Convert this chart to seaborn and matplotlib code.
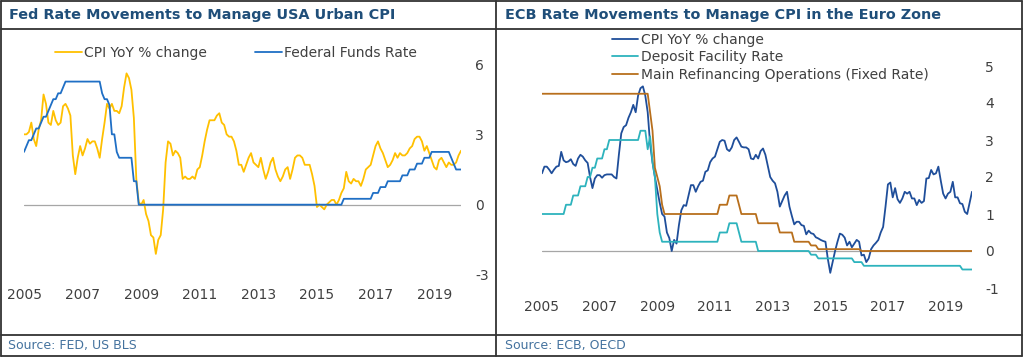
import numpy as np
import pandas as pd
import matplotlib.pyplot as plt
import seaborn as sns
from matplotlib.lines import Line2D

# monthly values, Jan 2005 .. Dec 2019
us_cpi = [
    3.0, 3.0, 3.1, 3.5, 2.8, 2.5, 3.2, 3.6, 4.7, 4.3, 3.5, 3.4,      # 2005
    4.0, 3.6, 3.4, 3.5, 4.2, 4.3, 4.1, 3.8, 2.1, 1.3, 2.0, 2.5,      # 2006
    2.1, 2.4, 2.8, 2.6, 2.7, 2.7, 2.4, 2.0, 2.8, 3.5, 4.3, 4.1,      # 2007
    4.3, 4.0, 4.0, 3.9, 4.2, 5.0, 5.6, 5.4, 4.9, 3.7, 1.1, 0.1,      # 2008
    0.0, 0.2, -0.4, -0.7, -1.3, -1.4, -2.1, -1.5, -1.3, -0.2, 1.8, 2.7,  # 2009
    2.6, 2.1, 2.3, 2.2, 2.0, 1.1, 1.2, 1.1, 1.1, 1.2, 1.1, 1.5,      # 2010
    1.6, 2.1, 2.7, 3.2, 3.6, 3.6, 3.6, 3.8, 3.9, 3.5, 3.4, 3.0,      # 2011
    2.9, 2.9, 2.7, 2.3, 1.7, 1.7, 1.4, 1.7, 2.0, 2.2, 1.8, 1.7,      # 2012
    1.6, 2.0, 1.5, 1.1, 1.4, 1.8, 2.0, 1.5, 1.2, 1.0, 1.2, 1.5,      # 2013
    1.6, 1.1, 1.5, 2.0, 2.1, 2.1, 2.0, 1.7, 1.7, 1.7, 1.3, 0.8,      # 2014
    -0.1, 0.0, -0.1, -0.2, 0.0, 0.1, 0.2, 0.2, 0.0, 0.2, 0.5, 0.7,   # 2015
    1.4, 1.0, 0.9, 1.1, 1.0, 1.0, 0.8, 1.1, 1.5, 1.6, 1.7, 2.1,      # 2016
    2.5, 2.7, 2.4, 2.2, 1.9, 1.6, 1.7, 1.9, 2.2, 2.0, 2.2, 2.1,      # 2017
    2.1, 2.2, 2.4, 2.5, 2.8, 2.9, 2.9, 2.7, 2.3, 2.5, 2.2, 1.9,      # 2018
    1.6, 1.5, 1.9, 2.0, 1.8, 1.6, 1.8, 1.7, 1.7, 1.8, 2.1, 2.3,      # 2019
]

fed_rate = [
    2.25, 2.5, 2.75, 2.75, 3.0, 3.25, 3.25, 3.5, 3.75, 3.75, 4.0, 4.25,
    4.5, 4.5, 4.75, 4.75, 5.0, 5.25, 5.25, 5.25, 5.25, 5.25, 5.25, 5.25,
    5.25, 5.25, 5.25, 5.25, 5.25, 5.25, 5.25, 5.25, 4.75, 4.5, 4.5, 4.25,
    3.0, 3.0, 2.25, 2.0, 2.0, 2.0, 2.0, 2.0, 2.0, 1.0, 1.0, 0.0,
    0.0, 0.0, 0.0, 0.0, 0.0, 0.0, 0.0, 0.0, 0.0, 0.0, 0.0, 0.0,
    0.0, 0.0, 0.0, 0.0, 0.0, 0.0, 0.0, 0.0, 0.0, 0.0, 0.0, 0.0,
    0.0, 0.0, 0.0, 0.0, 0.0, 0.0, 0.0, 0.0, 0.0, 0.0, 0.0, 0.0,
    0.0, 0.0, 0.0, 0.0, 0.0, 0.0, 0.0, 0.0, 0.0, 0.0, 0.0, 0.0,
    0.0, 0.0, 0.0, 0.0, 0.0, 0.0, 0.0, 0.0, 0.0, 0.0, 0.0, 0.0,
    0.0, 0.0, 0.0, 0.0, 0.0, 0.0, 0.0, 0.0, 0.0, 0.0, 0.0, 0.0,
    0.0, 0.0, 0.0, 0.0, 0.0, 0.0, 0.0, 0.0, 0.0, 0.0, 0.0, 0.25,
    0.25, 0.25, 0.25, 0.25, 0.25, 0.25, 0.25, 0.25, 0.25, 0.25, 0.25, 0.5,
    0.5, 0.5, 0.75, 0.75, 0.75, 1.0, 1.0, 1.0, 1.0, 1.0, 1.0, 1.25,
    1.25, 1.25, 1.5, 1.5, 1.5, 1.75, 1.75, 1.75, 2.0, 2.0, 2.0, 2.25,
    2.25, 2.25, 2.25, 2.25, 2.25, 2.25, 2.25, 2.0, 1.75, 1.5, 1.5, 1.5,
]

ez_cpi = [
    2.1, 2.28, 2.28, 2.2, 2.1, 2.2, 2.28, 2.3, 2.68, 2.45, 2.4, 2.42,
    2.48, 2.35, 2.3, 2.5, 2.6, 2.55, 2.45, 2.38, 2.0, 1.7, 1.96, 2.05,
    2.05, 1.98, 2.05, 2.07, 2.07, 2.07, 2.0, 1.96, 2.6, 3.18, 3.35, 3.4,
    3.6, 3.75, 3.95, 3.75, 4.2, 4.4, 4.45, 4.2, 3.75, 2.9, 2.4, 2.0,
    1.65, 1.3, 1.0, 0.93, 0.5, 0.35, 0.0, 0.3, 0.2, 0.7, 1.1, 1.24,
    1.22, 1.5, 1.78, 1.78, 1.6, 1.75, 1.87, 1.9, 2.14, 2.18, 2.4, 2.5,
    2.55, 2.75, 2.95, 3.0, 2.98, 2.75, 2.7, 2.8, 3.0, 3.07, 2.95, 2.82,
    2.8, 2.8, 2.75, 2.5, 2.48, 2.6, 2.5, 2.7, 2.77, 2.6, 2.3, 2.0,
    1.9, 1.83, 1.6, 1.2, 1.35, 1.5, 1.6, 1.2, 0.95, 0.72, 0.79, 0.79,
    0.7, 0.68, 0.45, 0.55, 0.48, 0.46, 0.37, 0.34, 0.3, 0.27, 0.25, -0.22,
    -0.59, -0.3, 0.0, 0.25, 0.47, 0.44, 0.36, 0.15, 0.25, 0.1, 0.2, 0.3,
    0.25, -0.12, -0.1, -0.3, -0.2, 0.05, 0.15, 0.22, 0.3, 0.5, 0.65, 1.2,
    1.8, 1.85, 1.45, 1.7, 1.4, 1.3, 1.42, 1.6, 1.55, 1.6, 1.42, 1.42,
    1.24, 1.38, 1.3, 1.35, 1.96, 1.97, 2.19, 2.07, 2.1, 2.28, 1.9, 1.55,
    1.42, 1.55, 1.6, 1.87, 1.45, 1.45, 1.29, 1.27, 1.06, 1.0, 1.3, 1.6,
]

deposit_rate = [
    1.0, 1.0, 1.0, 1.0, 1.0, 1.0, 1.0, 1.0, 1.0, 1.0, 1.25, 1.25,
    1.25, 1.5, 1.5, 1.5, 1.75, 1.75, 1.75, 2.0, 2.0, 2.25, 2.25, 2.5,
    2.5, 2.5, 2.75, 2.75, 3.0, 3.0, 3.0, 3.0, 3.0, 3.0, 3.0, 3.0,
    3.0, 3.0, 3.0, 3.0, 3.0, 3.25, 3.25, 3.25, 2.75, 3.1, 2.4, 2.0,
    1.0, 0.5, 0.25, 0.25, 0.25, 0.25, 0.25, 0.25, 0.25, 0.25, 0.25, 0.25,
    0.25, 0.25, 0.25, 0.25, 0.25, 0.25, 0.25, 0.25, 0.25, 0.25, 0.25, 0.25,
    0.25, 0.25, 0.5, 0.5, 0.5, 0.5, 0.75, 0.75, 0.75, 0.75, 0.5, 0.25,
    0.25, 0.25, 0.25, 0.25, 0.25, 0.25, 0.0, 0.0, 0.0, 0.0, 0.0, 0.0,
    0.0, 0.0, 0.0, 0.0, 0.0, 0.0, 0.0, 0.0, 0.0, 0.0, 0.0, 0.0,
    0.0, 0.0, 0.0, 0.0, -0.1, -0.1, -0.1, -0.2, -0.2, -0.2, -0.2, -0.2,
    -0.2, -0.2, -0.2, -0.2, -0.2, -0.2, -0.2, -0.2, -0.2, -0.2, -0.3, -0.3,
    -0.3, -0.3, -0.4, -0.4, -0.4, -0.4, -0.4, -0.4, -0.4, -0.4, -0.4, -0.4,
    -0.4, -0.4, -0.4, -0.4, -0.4, -0.4, -0.4, -0.4, -0.4, -0.4, -0.4, -0.4,
    -0.4, -0.4, -0.4, -0.4, -0.4, -0.4, -0.4, -0.4, -0.4, -0.4, -0.4, -0.4,
    -0.4, -0.4, -0.4, -0.4, -0.4, -0.4, -0.4, -0.5, -0.5, -0.5, -0.5, -0.5,
]

mro_rate = [
    4.25, 4.25, 4.25, 4.25, 4.25, 4.25, 4.25, 4.25, 4.25, 4.25, 4.25, 4.25,
    4.25, 4.25, 4.25, 4.25, 4.25, 4.25, 4.25, 4.25, 4.25, 4.25, 4.25, 4.25,
    4.25, 4.25, 4.25, 4.25, 4.25, 4.25, 4.25, 4.25, 4.25, 4.25, 4.25, 4.25,
    4.25, 4.25, 4.25, 4.25, 4.25, 4.25, 4.25, 4.25, 4.25, 3.75, 3.25, 2.25,
    2.0, 1.75, 1.25, 1.0, 1.0, 1.0, 1.0, 1.0, 1.0, 1.0, 1.0, 1.0,
    1.0, 1.0, 1.0, 1.0, 1.0, 1.0, 1.0, 1.0, 1.0, 1.0, 1.0, 1.0,
    1.0, 1.0, 1.25, 1.25, 1.25, 1.25, 1.5, 1.5, 1.5, 1.5, 1.25, 1.0,
    1.0, 1.0, 1.0, 1.0, 1.0, 1.0, 0.75, 0.75, 0.75, 0.75, 0.75, 0.75,
    0.75, 0.75, 0.75, 0.5, 0.5, 0.5, 0.5, 0.5, 0.5, 0.25, 0.25, 0.25,
    0.25, 0.25, 0.25, 0.25, 0.15, 0.15, 0.15, 0.05, 0.05, 0.05, 0.05, 0.05,
    0.05, 0.05, 0.05, 0.05, 0.05, 0.05, 0.05, 0.05, 0.05, 0.05, 0.05, 0.05,
    0.05, 0.0, 0.0, 0.0, 0.0, 0.0, 0.0, 0.0, 0.0, 0.0, 0.0, 0.0,
    0.0, 0.0, 0.0, 0.0, 0.0, 0.0, 0.0, 0.0, 0.0, 0.0, 0.0, 0.0,
    0.0, 0.0, 0.0, 0.0, 0.0, 0.0, 0.0, 0.0, 0.0, 0.0, 0.0, 0.0,
    0.0, 0.0, 0.0, 0.0, 0.0, 0.0, 0.0, 0.0, 0.0, 0.0, 0.0, 0.0,
]

tick_years = [2005, 2007, 2009, 2011, 2013, 2015, 2017, 2019]
us_yticks = [-3, 0, 3, 6]
ez_yticks = [-1, 0, 1, 2, 3, 4, 5]

dates = pd.date_range("2005-01-01", periods=len(us_cpi), freq="MS")
t = dates.year + (dates.month - 1) / 12

us = pd.DataFrame({"t": t, "cpi": us_cpi, "fed": fed_rate})
ez = pd.DataFrame({"t": t, "cpi": ez_cpi, "df": deposit_rate, "mro": mro_rate})

sns.set_theme(style="white")
plt.rcParams["font.family"] = ["DejaVu Sans"]
plt.rcParams["axes.unicode_minus"] = False

W, H = 1024, 362
fig = plt.figure(figsize=(W / 100, H / 100), dpi=100)

def box(x0, x1, y_top, y_bot):
    return [x0 / W, 1 - y_bot / H, (x1 - x0) / W, (y_bot - y_top) / H]

navy = "#1F4E79"
tick_col = "#404040"
zero_col = "#A6A6A6"
lw = 1.3

# ---- left: Fed
ax1 = fig.add_axes(box(24, 461, 64, 275))
sns.lineplot(data=us, x="t", y="cpi", ax=ax1, color="#FFC000", lw=lw)
sns.lineplot(data=us, x="t", y="fed", ax=ax1, color="#1F6FC5", lw=lw)
ax1.set_ylim(-3, 6)
ax1.set_yticks(us_yticks)

# ---- right: ECB
ax2 = fig.add_axes(box(542, 972, 66, 288))
sns.lineplot(data=ez, x="t", y="cpi", ax=ax2, color="#1F4E9A", lw=lw)
sns.lineplot(data=ez, x="t", y="df", ax=ax2, color="#2DB3BD", lw=lw)
sns.lineplot(data=ez, x="t", y="mro", ax=ax2, color="#B86F1C", lw=lw)
ax2.set_ylim(-1, 5)
ax2.set_yticks(ez_yticks)

for ax, xpad, ypad in [(ax1, 9.5, 10), (ax2, 8.6, 9.4)]:
    ax.axhline(0, color=zero_col, lw=0.9, zorder=0)
    ax.set_xlim(t[0], t[-1])
    ax.set_xticks(tick_years)
    ax.set_xticklabels([str(y) for y in tick_years])
    ax.yaxis.tick_right()
    ax.tick_params(axis="x", length=0, pad=xpad, labelsize=10, labelcolor=tick_col)
    ax.tick_params(axis="y", length=0, pad=ypad, labelsize=10, labelcolor=tick_col)
    for lab in ax.get_yticklabels():
        lab.set_horizontalalignment("left")
    ax.set_xlabel("")
    ax.set_ylabel("")
    ax.set_facecolor("none")
    for s in ax.spines.values():
        s.set_visible(False)

# legends
h1 = [Line2D([], [], color="#FFC000", lw=lw), Line2D([], [], color="#1F6FC5", lw=lw)]
fig.legend(h1, ["CPI YoY % change", "Federal Funds Rate"], loc="center left",
           bbox_to_anchor=(49 / W, 1 - 53 / H), ncol=2, frameon=False, fontsize=10,
           handlelength=2.0, handletextpad=0.15, columnspacing=3.4, borderaxespad=0,
           labelcolor="#404040")
h2 = [Line2D([], [], color="#1F4E9A", lw=lw), Line2D([], [], color="#2DB3BD", lw=lw),
      Line2D([], [], color="#B86F1C", lw=lw)]
fig.legend(h2, ["CPI YoY % change", "Deposit Facility Rate",
                "Main Refinancing Operations (Fixed Rate)"], loc="upper left",
           bbox_to_anchor=(606 / W, 1 - 27 / H), ncol=1, frameon=False, fontsize=10,
           handlelength=1.9, handletextpad=0.25, labelspacing=0.27, borderaxespad=0,
           labelcolor="#404040")

# titles and sources
fig.text(9 / W, 1 - 14.5 / H, "Fed Rate Movements to Manage USA Urban CPI",
         fontsize=10.4, fontweight="bold", color=navy, va="center", ha="left")
fig.text(505 / W, 1 - 14.5 / H, "ECB Rate Movements to Manage CPI in the Euro Zone",
         fontsize=10.4, fontweight="bold", color=navy, va="center", ha="left")
fig.text(8 / W, 1 - 346 / H, "Source: FED, US BLS", fontsize=9, color="#44729E",
         va="center", ha="left")
fig.text(505 / W, 1 - 346 / H, "Source: ECB, OECD", fontsize=9, color="#44729E",
         va="center", ha="left")

# panel frames
frame = dict(color="#333333", lw=1.3, transform=fig.transFigure, clip_on=False)
for (xa, ya), (xb, yb) in [((1, 1), (1022, 1)), ((1, 356), (1022, 356)),
                           ((1, 1), (1, 356)), ((1022, 1), (1022, 356)),
                           ((496, 1), (496, 356)), ((1, 28.5), (1022, 28.5)),
                           ((1, 335), (1022, 335))]:
    fig.add_artist(Line2D([xa / W, xb / W], [1 - ya / H, 1 - yb / H], **frame))

fig.savefig("out.png", dpi=100)
